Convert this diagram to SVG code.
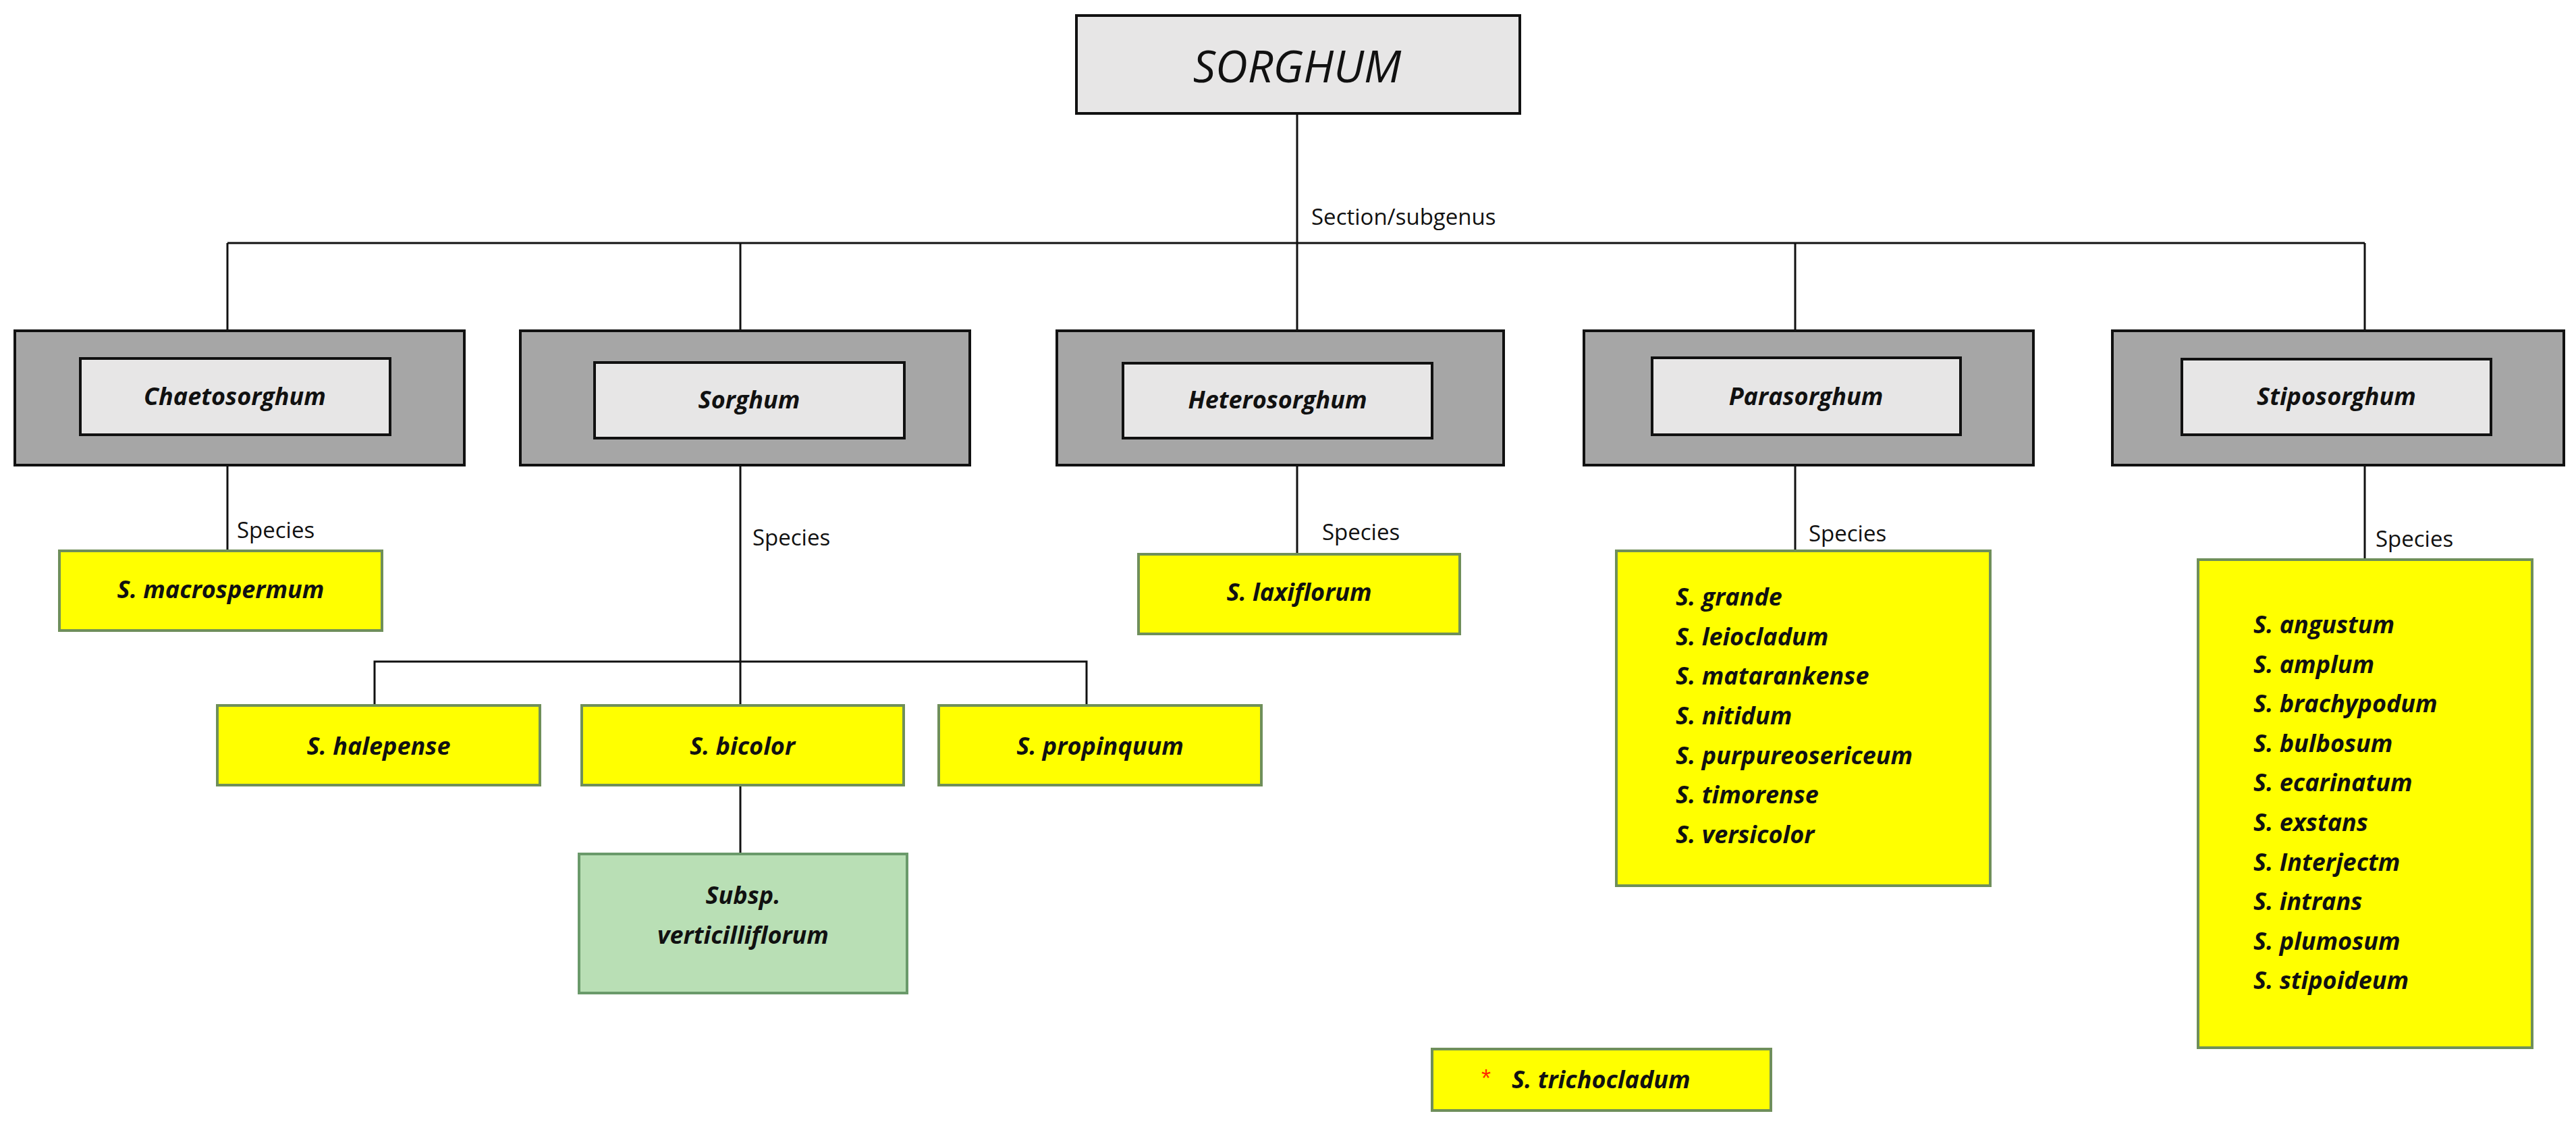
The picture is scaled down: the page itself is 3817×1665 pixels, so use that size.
<svg xmlns="http://www.w3.org/2000/svg" width="3817" height="1665" viewBox="0 0 3817 1665">
<style>
.outer{fill:#a6a6a6;stroke:#111;stroke-width:4}
.inner{fill:#e7e6e6;stroke:#111;stroke-width:4}
.yel{fill:#ffff00;stroke:#6f8f5a;stroke-width:4}
.grn{fill:#b9dfb5;stroke:#6a9a6a;stroke-width:4}
.t{font-family:"Open Sans","Liberation Sans",sans-serif;font-weight:bold;font-style:italic;font-size:36px;fill:#111}
.c{text-anchor:middle}
.lbl{font-family:"Open Sans","Liberation Sans",sans-serif;font-size:33px;fill:#111}
.ln{stroke:#111;stroke-width:3;fill:none}
</style>
<rect width="3817" height="1665" fill="#fff"/>
<g id="connectors">
<path class="ln" d="M1922 168V490M337 360H3504M337 360V490M1097 360V490M2660 360V490M3504 360V490"/>
<path class="ln" d="M337 689V816M1097 689V1045M555 1045V980H1610V1045M1097 1163V1265M1922 689V821M2660 689V816M3504 689V829"/>
<text class="lbl" x="1943" y="333">Section/subgenus</text>
<text class="lbl" x="351" y="797">Species</text>
<text class="lbl" x="1115" y="808">Species</text>
<text class="lbl" x="1959" y="800">Species</text>
<text class="lbl" x="2680" y="802">Species</text>
<text class="lbl" x="3520" y="810">Species</text>
</g>
<g id="root"><rect x="1595" y="23" width="657" height="145" fill="#e7e6e6" stroke="#111" stroke-width="4"/>
<text x="1922" y="122" text-anchor="middle" font-family="Open Sans,Liberation Sans,sans-serif" font-style="italic" font-size="66" fill="#111">SORGHUM</text></g>
<g id="chaetosorghum"><rect class="outer" x="22" y="490" width="666" height="199"/><rect class="inner" x="119" y="531" width="459" height="113"/><text class="t c" x="348" y="600">Chaetosorghum</text></g>
<g id="sorghum"><rect class="outer" x="771" y="490" width="666" height="199"/><rect class="inner" x="881" y="537" width="459" height="112"/><text class="t c" x="1110" y="605">Sorghum</text></g>
<g id="heterosorghum"><rect class="outer" x="1566" y="490" width="662" height="199"/><rect class="inner" x="1664" y="538" width="458" height="111"/><text class="t c" x="1893" y="605">Heterosorghum</text></g>
<g id="parasorghum"><rect class="outer" x="2347" y="490" width="666" height="199"/><rect class="inner" x="2448" y="530" width="457" height="114"/><text class="t c" x="2676" y="600">Parasorghum</text></g>
<g id="stiposorghum"><rect class="outer" x="3130" y="490" width="669" height="199"/><rect class="inner" x="3233" y="532" width="458" height="112"/><text class="t c" x="3462" y="600">Stiposorghum</text></g>
<g id="macrospermum"><rect class="yel" x="88" y="816" width="478" height="118"/><text class="t c" x="327" y="886">S. macrospermum</text></g>
<g id="laxiflorum"><rect class="yel" x="1687" y="821" width="476" height="118"/><text class="t c" x="1925" y="890">S. laxiflorum</text></g>
<g id="halepense"><rect class="yel" x="322" y="1045" width="478" height="118"/><text class="t c" x="561" y="1118">S. halepense</text></g>
<g id="bicolor"><rect class="yel" x="862" y="1045" width="477" height="118"/><text class="t c" x="1100" y="1118">S. bicolor</text></g>
<g id="propinquum"><rect class="yel" x="1391" y="1045" width="478" height="118"/><text class="t c" x="1630" y="1118">S. propinquum</text></g>
<g id="verticilliflorum"><rect class="grn" x="858" y="1265" width="486" height="206"/><text class="t c" x="1101" y="1339">Subsp.</text><text class="t c" x="1101" y="1398">verticilliflorum</text></g>
<g id="parasorghum-species"><rect class="yel" x="2395" y="816" width="554" height="496"/>
<text class="t" x="2483" y="897">S. grande</text><text class="t" x="2483" y="956">S. leiocladum</text><text class="t" x="2483" y="1014">S. matarankense</text><text class="t" x="2483" y="1073">S. nitidum</text><text class="t" x="2483" y="1132">S. purpureosericeum</text><text class="t" x="2483" y="1190">S. timorense</text><text class="t" x="2483" y="1249">S. versicolor</text></g>
<g id="stiposorghum-species"><rect class="yel" x="3257" y="829" width="495" height="723"/>
<text class="t" x="3339" y="938">S. angustum</text><text class="t" x="3339" y="997">S. amplum</text><text class="t" x="3339" y="1055">S. brachypodum</text><text class="t" x="3339" y="1114">S. bulbosum</text><text class="t" x="3339" y="1172">S. ecarinatum</text><text class="t" x="3339" y="1231">S. exstans</text><text class="t" x="3339" y="1290">S. Interjectm</text><text class="t" x="3339" y="1348">S. intrans</text><text class="t" x="3339" y="1407">S. plumosum</text><text class="t" x="3339" y="1465">S. stipoideum</text></g>
<g id="trichocladum"><rect class="yel" x="2122" y="1554" width="502" height="91"/><text x="2195" y="1610" font-family="Liberation Sans,sans-serif" font-size="36" fill="#ff2a00">*</text><text class="t" x="2240" y="1612">S. trichocladum</text></g>
</svg>
